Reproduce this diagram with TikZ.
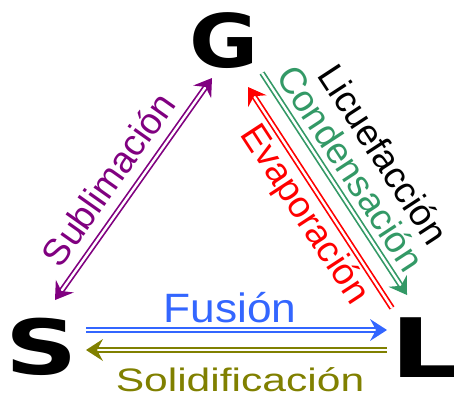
\documentclass[tikz,border=0pt]{standalone}
\usepackage{fontspec}
\setmainfont{Liberation Sans}
\newfontfamily\heavyfont{DejaVu Sans}
\usetikzlibrary{calc}
\definecolor{cpurple}{RGB}{128,0,128}
\definecolor{cblue}{RGB}{51,102,255}
\definecolor{colive}{RGB}{128,128,0}
\definecolor{cred}{RGB}{255,0,0}
\definecolor{cgreen}{RGB}{51,153,102}
% arrow head: #1 colour, #2 tip coordinate, #3 other end of the connector
\newcommand\headat[3]{%
  \fill[#1] (#2) -- ($(#2)!17pt!(#3)!11pt!90:(#2)$) -- ($(#2)!11pt!(#3)$)
    -- ($(#2)!17pt!(#3)!11pt!-90:(#2)$) -- cycle;}
\begin{document}
\begin{tikzpicture}[x=1pt,y=-1pt,
  dbl/.style={double=white, double distance=2.4pt, line width=1.7pt},
  bigletter/.style={inner sep=0pt, font=\heavyfont\bfseries},
  lab/.style={inner sep=0pt, font=\fontsize{37}{42}\selectfont}]
\useasboundingbox (0,0) rectangle (454,396);

% phase letters
\node[bigletter, font=\heavyfont\bfseries\fontsize{74}{80}\selectfont, xscale=1.14, anchor=base] (G) at (224,67) {G};
\node[bigletter, font=\heavyfont\bfseries\fontsize{76}{80}\selectfont, xscale=1.32, anchor=base] (S) at (42,374) {S};
\node[bigletter, font=\heavyfont\bfseries\fontsize{82}{88}\selectfont, xscale=1.35, anchor=base west] (L) at (390,377) {L};

% end points of connectors
\coordinate (s1) at (55,300);
\coordinate (s2) at (212,78);
\coordinate (f1) at (86,330);
\coordinate (f2) at (387,330);
\coordinate (d1) at (387,350);
\coordinate (d2) at (86,350);
\coordinate (e1) at (392,308);
\coordinate (e2) at (248,87);
\coordinate (c1) at (262,73);
\coordinate (c2) at (407,295);

% Sublimacion (both ways)
\draw[dbl, cpurple, shorten <=8pt, shorten >=8pt] (s1) -- (s2);
\headat{cpurple}{s1}{s2}
\headat{cpurple}{s2}{s1}
% Fusion
\draw[dbl, cblue, shorten >=8pt] (f1) -- (f2);
\headat{cblue}{f2}{f1}
% Solidificacion
\draw[dbl, colive, shorten >=8pt] (d1) -- (d2);
\headat{colive}{d2}{d1}
% Evaporacion
\draw[dbl, cred, shorten >=8pt] (e1) -- (e2);
\headat{cred}{e2}{e1}
% Condensacion
\draw[dbl, cgreen, shorten >=8pt] (c1) -- (c2);
\headat{cgreen}{c2}{c1}

% labels
\node[lab, text=cpurple, rotate=54.75] (tsub) at (108,179) {Sublimación};
\node[lab, text=black, rotate=-56.85] (tlic) at (384,154) {Licuefacción};
\node[lab, text=cgreen, rotate=-56.85] (tcon) at (351,168) {Condensación};
\node[lab, text=cred, rotate=-56.85] (tevap) at (304,215) {Evaporación};
\node[inner sep=0pt, text=cblue, font=\fontsize{41}{45}\selectfont, xscale=1.08, anchor=base] (tfus) at (230,322) {Fusión};
\node[inner sep=0pt, text=colive, font=\fontsize{32.5}{36}\selectfont, xscale=1.31, anchor=base] (tsol) at (240,391) {Solidificación};
\end{tikzpicture}
\end{document}
